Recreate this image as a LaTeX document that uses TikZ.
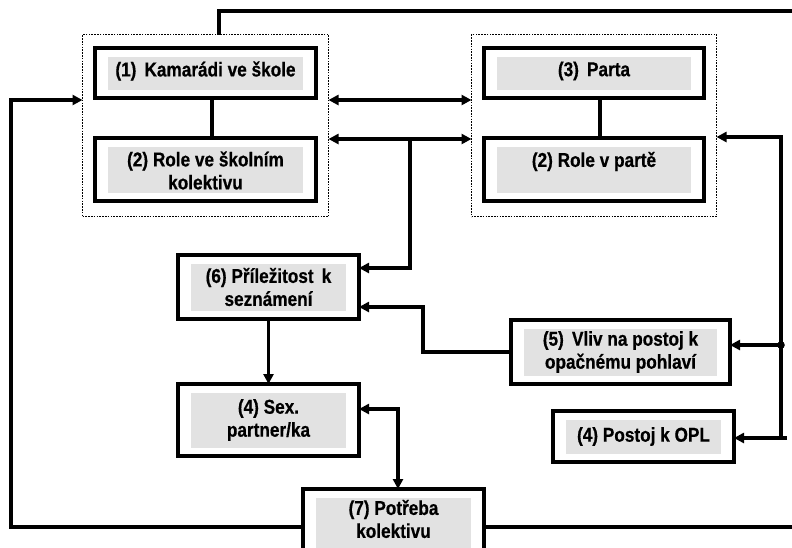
\documentclass[tikz,border=0pt]{standalone}
\usepackage{fontspec}
\setmainfont{Liberation Sans}[BoldFeatures={FakeStretch=0.86,FakeBold=0.6}]
\usetikzlibrary{arrows.meta,calc}

\definecolor{panelgray}{RGB}{226,226,226}

\tikzset{
  frame/.style={draw=black, line width=3.8pt, outer sep=0pt, inner sep=0pt, fill=white},
  group/.style={draw=black, line width=1.8pt, dash pattern=on 1.6pt off 1.2pt, outer sep=0pt, inner sep=0pt},
  label/.style={font=\bfseries\fontsize{20}{23}\selectfont, align=center, inner sep=0pt},
  link/.style={line width=3.4pt, line join=miter},
  tip/.style={-{Triangle[length=10pt,width=10pt]}},
  tips/.style={{Triangle[length=10pt,width=10pt]}-{Triangle[length=10pt,width=10pt]}},
}

% box with a gray panel and its text
\newcommand{\panelbox}[6]{%
  \node[frame, minimum width=#3, minimum height=#4] (#1) at #2 {};
  \fill[panelgray] ($(#1.north west)+(13,9)$) rectangle ($(#1.south east)+(-13,-8)$);
  \node[label] (#1-t) at ($(#1.center)+(0,#5)$) {#6};
}

\begin{document}
\begin{tikzpicture}[x=1pt, y=-1pt]
\clip (0,0) rectangle (792,547);
\fill[white] (0,0) rectangle (792,547);

% grouped boxes
\node[group, minimum width=246pt, minimum height=182pt] (g1) at (205.5,125.5) {};
\node[group, minimum width=245pt, minimum height=182pt] (g2) at (594,125.5) {};

\panelbox{b1}{(205.5,73)}{221pt}{50pt}{-2}{(1)\, Kamarádi ve škole}
\panelbox{b2}{(205.5,169.5)}{221pt}{63pt}{1}{(2) Role ve školním\\kolektivu}
\panelbox{b3}{(594,73)}{220pt}{50pt}{-2}{(3)\, Parta}
\panelbox{b2p}{(594,169.5)}{220pt}{63pt}{-8}{(2) Role v partě}

\panelbox{b6}{(268.5,287)}{181pt}{64pt}{0}{(6) Příležitost\, k\\seznámení}
\panelbox{b4s}{(268.5,420)}{181pt}{72pt}{0}{(4) Sex.\\partner/ka}
\panelbox{b5}{(620.5,352)}{219pt}{64pt}{0}{(5)\, Vliv na postoj k\\opačnému pohlaví}
\panelbox{b4p}{(643.5,436.5)}{181pt}{51pt}{0}{(4) Postoj k OPL}
\panelbox{b7}{(393.5,532)}{181pt}{86pt}{-13}{(7) Potřeba\\kolektivu}

% links inside the groups
\draw[link] (b1.south -| 212,0) -- (b2.north -| 212,0);
\draw[link] (b3.south -| 600,0) -- (b2p.north -| 600,0);

% free ends and bends
\coordinate (topR) at (795,11);
\coordinate (botR) at (795,527);
\coordinate (rjoin) at (781,345);
\coordinate (tee) at (410,139);

% top line leaving the first group
\draw[link] (g1.north -| 219,0) -- (219,11) -- (topR);

% long loop on the left
\draw[link, tip] (b7.west |- 0,527) -- (11,527) -- (11,100) -- (g1.west |- 0,100);

% between the groups
\draw[link, tips] (g1.east |- 0,100) -- (g2.west |- 0,100);
\draw[link, tips] (g1.east |- 0,139) -- (g2.west |- 0,139);
\draw[link, tip] (tee) -- (410,268) -- (b6.east |- 0,268);

% right-hand feed
\draw[link, tip] (787,438) -- (b4p.east |- 0,438);
\draw[link, tip] (781,438) -- (781,137) -- (g2.east |- 0,137);
\draw[link, tip] (rjoin) -- (b5.east |- rjoin);
\fill (rjoin) circle (3.8pt);

% from (5) to (6)
\draw[link, tip] (b5.west |- 0,352) -- (423,352) -- (423,307) -- (b6.east |- 0,307);

% (6) to (4) and (4) to (7)
\draw[link, tip] (b6.south) -- (b4s.north);
\draw[link, tips] (b4s.east |- 0,409) -- (398,409) -- (b7.north -| 398,0);

% line leaving (7) to the right
\draw[link] (b7.east |- 0,527) -- (botR);
\end{tikzpicture}
\end{document}
